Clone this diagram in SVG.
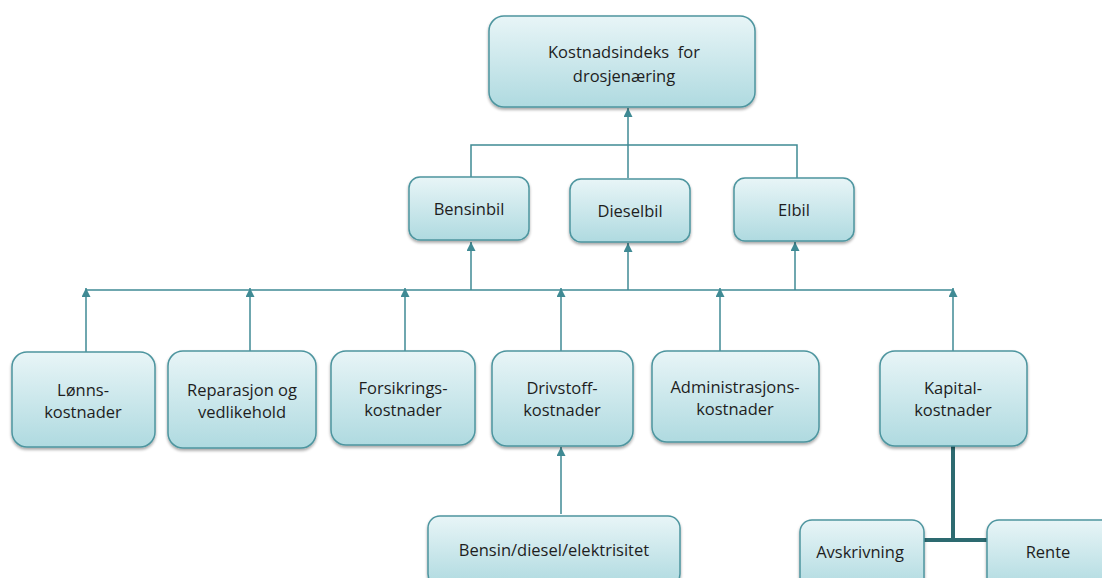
<svg xmlns="http://www.w3.org/2000/svg" width="1102" height="578" viewBox="0 0 1102 578">
<defs>
<linearGradient id="g" x1="0" y1="0" x2="0" y2="1">
<stop offset="0" stop-color="#e8f5f7"/>
<stop offset="1" stop-color="#afdae0"/>
</linearGradient>
<filter id="sh" x="-10%" y="-10%" width="120%" height="130%">
<feGaussianBlur in="SourceAlpha" stdDeviation="1.5"/>
<feOffset dx="0" dy="2" result="b"/>
<feComponentTransfer><feFuncA type="linear" slope="0.35"/></feComponentTransfer>
<feMerge><feMergeNode/><feMergeNode in="SourceGraphic"/></feMerge>
</filter>
<marker id="ah" viewBox="0 0 10 10" refX="10" refY="5" markerWidth="10" markerHeight="9" markerUnits="userSpaceOnUse" orient="auto">
<path d="M0,0 L10,5 L0,10 z" fill="#3f8a94"/>
</marker>
</defs>
<style>
.n rect{fill:url(#g);stroke:#4d959f;stroke-width:1.5;filter:url(#sh)}
.n text{font-family:"Open Sans","Liberation Sans",sans-serif;font-size:16.5px;fill:#1e1e1e;text-anchor:middle}
.c{fill:none;stroke:#3f8a94;stroke-width:1.5}
.a{fill:none;stroke:#3f8a94;stroke-width:1.5;marker-end:url(#ah)}
.k{fill:none;stroke:#2d6a70;stroke-width:4}
</style>
<g id="connectors">
<path class="c" d="M471,177 V145 H797 V178"/>
<path class="a" d="M628,178 V108"/>
<path class="c" d="M86,290 H953"/>
<path class="a" d="M471,290 V242"/>
<path class="a" d="M628,290 V243"/>
<path class="a" d="M795,290 V242"/>
<path class="a" d="M86,352 V288"/>
<path class="a" d="M250,351 V288"/>
<path class="a" d="M405,351 V288"/>
<path class="a" d="M561,351 V288"/>
<path class="a" d="M720,351 V288"/>
<path class="a" d="M953,351 V288"/>
<path class="a" d="M561,514 V447"/>
<path class="k" d="M953,446 V540 M922,540 H990"/>
</g>
<g id="n0" class="n"><rect x="489" y="16" width="266" height="91" rx="15"/><text x="624" y="58" xml:space="preserve" style="white-space:pre">Kostnadsindeks  for</text><text x="624" y="82">drosjenæring</text></g>
<g id="n1" class="n"><rect x="409" y="177" width="120" height="63" rx="11"/><text x="469" y="215">Bensinbil</text></g>
<g id="n2" class="n"><rect x="570" y="179" width="120" height="63" rx="11"/><text x="630" y="217">Dieselbil</text></g>
<g id="n3" class="n"><rect x="734" y="178" width="120" height="63" rx="11"/><text x="794" y="216">Elbil</text></g>
<g id="n4" class="n"><rect x="12" y="352" width="143" height="95" rx="15"/><text x="83" y="396">Lønns-</text><text x="83" y="418">kostnader</text></g>
<g id="n5" class="n"><rect x="168" y="351" width="148" height="97" rx="15"/><text x="242" y="396">Reparasjon og</text><text x="242" y="418">vedlikehold</text></g>
<g id="n6" class="n"><rect x="331" y="351" width="144" height="94" rx="15"/><text x="403" y="394">Forsikrings-</text><text x="403" y="416">kostnader</text></g>
<g id="n7" class="n"><rect x="492" y="351" width="141" height="95" rx="15"/><text x="562" y="394">Drivstoff-</text><text x="562" y="416">kostnader</text></g>
<g id="n8" class="n"><rect x="652" y="351" width="167" height="91" rx="15"/><text x="735" y="393">Administrasjons-</text><text x="735" y="415">kostnader</text></g>
<g id="n9" class="n"><rect x="880" y="351" width="147" height="95" rx="15"/><text x="953" y="394">Kapital-</text><text x="953" y="416">kostnader</text></g>
<g id="n10" class="n"><rect x="428" y="516" width="252" height="70" rx="12"/><text x="554" y="556">Bensin/diesel/elektrisitet</text></g>
<g id="n11" class="n"><rect x="800" y="520" width="124" height="70" rx="12"/><text x="860" y="558">Avskrivning</text></g>
<g id="n12" class="n"><rect x="987" y="520" width="130" height="70" rx="12"/><text x="1048" y="558">Rente</text></g>
</svg>
